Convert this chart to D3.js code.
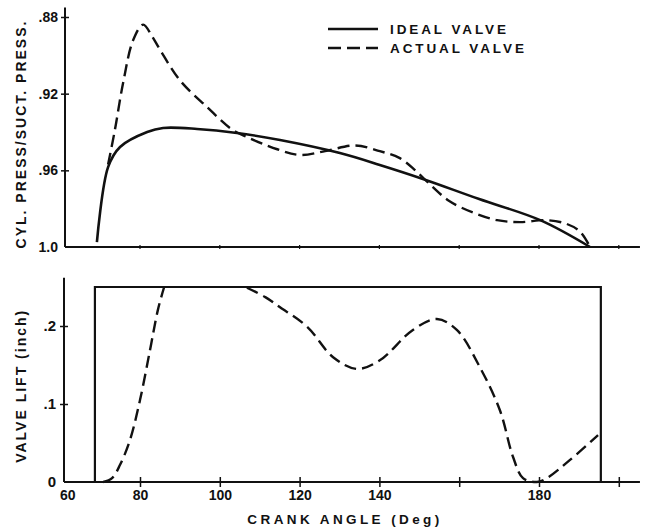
<!DOCTYPE html>
<html>
<head>
<meta charset="utf-8">
<script src="https://cdnjs.cloudflare.com/ajax/libs/d3/7.8.5/d3.min.js"></script>
<style>
body { margin: 0; background: #fff; }
svg text { font-family: "Liberation Sans", Arial, sans-serif; font-weight: bold; fill: #111; }
</style>
</head>
<body>
<div id="chart"></div>
<script>
// Values: [crank angle (deg), value]

// Top panel: cylinder pressure / suction pressure
var idealPressure = [
    [69.2, 0.9974], [72.0, 0.9583], [75.0, 0.9478], [81.8, 0.9400], [85.8, 0.9379],
    [94.3, 0.9384], [104.3, 0.9405], [115.1, 0.9442], [130.1, 0.9510], [140.1, 0.9572],
    [150.9, 0.9645], [165.0, 0.9750], [180.3, 0.9860], [192.8, 1.0]
];
var actualPressure = [
    [72.0, 0.9570], [73.7, 0.9390], [75.8, 0.9140], [78.3, 0.8920], [80.8, 0.8840],
    [83.0, 0.8900], [85.0, 0.8970], [90.0, 0.9130], [96.8, 0.9270], [102.6, 0.9380],
    [105.1, 0.9410], [114.4, 0.9490], [120.1, 0.9520], [126.4, 0.9500], [133.9, 0.9470],
    [140.1, 0.9500], [145.0, 0.9535], [149.0, 0.9600], [153.0, 0.9680], [157.5, 0.9760],
    [163.4, 0.9820], [169.5, 0.9860], [175.2, 0.9870], [182.0, 0.9860], [187.0, 0.9880],
    [190.3, 0.9920], [192.8, 1.0]
];

// Bottom panel: valve lift (inch)
var idealLift = [[68.7, 0], [68.7, 0.25], [195.5, 0.25], [195.5, 0]];
var actualLiftOpening = [
    [70.8, 0.000], [73.0, 0.005], [75.0, 0.022], [77.5, 0.054], [80.0, 0.105],
    [82.5, 0.169], [84.5, 0.221], [86.0, 0.249]
];
var actualLiftClosing = [
    [106.8, 0.249], [111.4, 0.237], [115.1, 0.224], [121.9, 0.199], [128.4, 0.160],
    [134.4, 0.145], [140.1, 0.156], [148.4, 0.195], [154.4, 0.209], [159.4, 0.195],
    [165.2, 0.147], [170.2, 0.092], [173.5, 0.032], [176.0, 0.005], [179.5, 0.000],
    [182.0, 0.005], [187.7, 0.028], [194.8, 0.060]
];

// Tick values and labels
var angleTicks = [60, 80, 100, 120, 140, 160, 180, 200];
var angleLabels = {60: "60", 80: "80", 100: "100", 120: "120", 140: "140", 180: "180"};
var pressureTicks = [0.88, 0.92, 0.96, 1.0];
var liftTicks = [0, 0.1, 0.2];
var legendItems = ["IDEAL VALVE", "ACTUAL VALVE"];

var width = 645, height = 531;
var dash = "12,6";

var svg = d3.select("#chart").append("svg")
    .attr("width", width)
    .attr("height", height);

var x = d3.scaleLinear().domain([60, 200]).range([60.2, 618.8]);
var yTop = d3.scaleLinear().domain([0.88, 1.0]).range([17, 247]);
var yBot = d3.scaleLinear().domain([0, 0.2]).range([482, 326]);

var topLine = d3.line()
    .x(function(d) { return x(d[0]); })
    .y(function(d) { return yTop(d[1]); })
    .curve(d3.curveCatmullRom.alpha(0.5));

var botLine = d3.line()
    .x(function(d) { return x(d[0]); })
    .y(function(d) { return yBot(d[1]); })
    .curve(d3.curveCatmullRom.alpha(0.5));

// --------------------------------------------------
// Top panel axes
// --------------------------------------------------
var topX = 65;

svg.append("line")
    .attr("x1", topX).attr("x2", x(205.3))
    .attr("y1", yTop(1.0)).attr("y2", yTop(1.0))
    .attr("stroke", "#111").attr("stroke-width", 2);

svg.append("line")
    .attr("x1", topX).attr("x2", topX)
    .attr("y1", yTop(0.875)).attr("y2", yTop(1.0))
    .attr("stroke", "#111").attr("stroke-width", 2);

var topYAxis = svg.append("g")
    .attr("transform", "translate(" + topX + ",0)")
    .call(d3.axisLeft(yTop)
        .tickValues(pressureTicks)
        .tickSize(0)
        .tickPadding(7)
        .tickFormat(function(d) { return d === 1 ? "1.0" : d3.format(".2f")(d).replace("0.", "."); }));
topYAxis.select(".domain").remove();
topYAxis.selectAll(".tick line")
    .attr("x1", -4).attr("x2", 4)
    .attr("stroke", "#111").attr("stroke-width", 1.5)
    .style("display", function(d) { return d === 1 ? "none" : null; });
topYAxis.selectAll(".tick text").style("font-size", "14px");

// tiny marks along the top baseline
svg.selectAll(".top-tick")
    .data(angleTicks.slice(1))
    .enter().append("line")
    .attr("class", "top-tick")
    .attr("x1", function(d) { return x(d); }).attr("x2", function(d) { return x(d); })
    .attr("y1", yTop(1.0) - 2).attr("y2", yTop(1.0) + 2)
    .attr("stroke", "#111").attr("stroke-width", 1.2);

svg.append("text")
    .attr("transform", "translate(26," + ((yTop(0.88) + yTop(1.0)) / 2 + 2) + ") rotate(-90)")
    .attr("text-anchor", "middle")
    .style("font-size", "14px")
    .style("letter-spacing", "2px")
    .text("CYL. PRESS/SUCT. PRESS.");

// --------------------------------------------------
// Bottom panel axes
// --------------------------------------------------
var botX = 64;

svg.append("line")
    .attr("x1", botX).attr("x2", x(205.3))
    .attr("y1", yBot(0)).attr("y2", yBot(0))
    .attr("stroke", "#111").attr("stroke-width", 2);

svg.append("line")
    .attr("x1", botX).attr("x2", botX)
    .attr("y1", yBot(0.262)).attr("y2", yBot(0))
    .attr("stroke", "#111").attr("stroke-width", 2);

var botYAxis = svg.append("g")
    .attr("transform", "translate(" + botX + ",0)")
    .call(d3.axisLeft(yBot)
        .tickValues(liftTicks)
        .tickSize(0)
        .tickPadding(8)
        .tickFormat(function(d) { return d === 0 ? "0" : d3.format(".1f")(d).replace("0.", "."); }));
botYAxis.select(".domain").remove();
botYAxis.selectAll(".tick line")
    .attr("x1", -4).attr("x2", 4)
    .attr("stroke", "#111").attr("stroke-width", 1.5)
    .style("display", function(d) { return d === 0 ? "none" : null; });
botYAxis.selectAll(".tick text").style("font-size", "15px");

var botXAxis = svg.append("g")
    .attr("transform", "translate(0," + yBot(0) + ")")
    .call(d3.axisBottom(x)
        .tickValues(angleTicks)
        .tickSize(0)
        .tickPadding(8)
        .tickFormat(function(d) { return angleLabels[d] || ""; }));
botXAxis.select(".domain").remove();
botXAxis.selectAll(".tick line")
    .attr("y1", -5).attr("y2", 5)
    .attr("stroke", "#111").attr("stroke-width", 1.5)
    .style("display", function(d) { return d === 60 ? "none" : null; });
botXAxis.selectAll(".tick text")
    .style("font-size", "14px")
    .attr("dx", function(d) { return d === 60 ? 7 : 0; });

svg.append("text")
    .attr("x", 345)
    .attr("y", 524)
    .attr("text-anchor", "middle")
    .style("font-size", "13.5px")
    .style("letter-spacing", "3.4px")
    .text("CRANK ANGLE (Deg)");

svg.append("text")
    .attr("transform", "translate(26," + ((yBot(0) + yBot(0.262)) / 2 + 6) + ") rotate(-90)")
    .attr("text-anchor", "middle")
    .style("font-size", "14px")
    .style("letter-spacing", "2px")
    .text("VALVE LIFT (inch)");

// --------------------------------------------------
// Curves
// --------------------------------------------------
svg.append("path")
    .attr("d", topLine(idealPressure))
    .attr("fill", "none").attr("stroke", "#111").attr("stroke-width", 2.6);

svg.append("path")
    .attr("d", topLine(actualPressure))
    .attr("fill", "none").attr("stroke", "#111").attr("stroke-width", 2.4)
    .attr("stroke-dasharray", dash);

svg.append("path")
    .attr("d", d3.line()
        .x(function(d) { return x(d[0]); })
        .y(function(d) { return yBot(d[1]); })(idealLift))
    .attr("fill", "none").attr("stroke", "#111").attr("stroke-width", 2.2);

[actualLiftOpening, actualLiftClosing].forEach(function(seg) {
    svg.append("path")
        .attr("d", botLine(seg))
        .attr("fill", "none").attr("stroke", "#111").attr("stroke-width", 2.4)
        .attr("stroke-dasharray", dash);
});

// --------------------------------------------------
// Legend
// --------------------------------------------------
var legend = svg.selectAll(".legend")
    .data(legendItems)
    .enter().append("g")
    .attr("class", "legend")
    .attr("transform", function(d, i) { return "translate(328," + (29 + i * 19) + ")"; });

legend.append("line")
    .attr("x1", 0).attr("x2", 50)
    .attr("stroke", "#111").attr("stroke-width", 2.4)
    .attr("stroke-dasharray", function(d, i) { return i === 1 ? "13,6" : null; });

legend.append("text")
    .attr("x", 62)
    .attr("dy", "0.36em")
    .style("font-size", "13.5px")
    .style("letter-spacing", "2.9px")
    .text(function(d) { return d; });
</script>
</body>
</html>
